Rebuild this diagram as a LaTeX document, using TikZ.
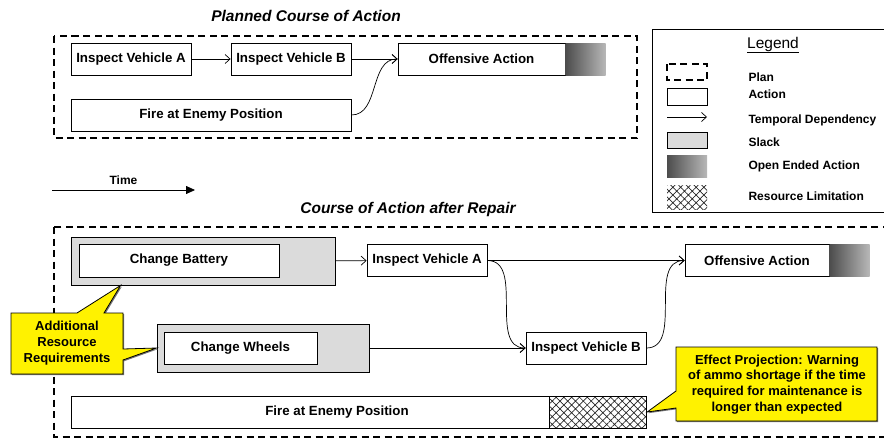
\documentclass[tikz,border=0pt]{standalone}
\usepackage{fontspec}
\setmainfont{Liberation Sans}
\usetikzlibrary{arrows.meta,patterns.meta,shadows}

\tikzset{
  act/.style={draw, line width=0.8pt, fill=white, font=\fontsize{13.3}{15}\selectfont\bfseries, inner sep=0pt, minimum height=32},
  slackbox/.style={draw, line width=0.8pt, fill=black!14, inner sep=0pt, minimum height=48},
  openend/.style={left color=black!70, right color=black!28, inner sep=0pt, minimum height=32, minimum width=40},
  limit/.style={draw, line width=0.8pt, pattern={Hatch[angle=45,distance=5.5pt,line width=0.7pt]}, pattern color=black!85, inner sep=0pt, minimum height=32},
  plan/.style={line width=1.4pt, dash pattern=on 7pt off 4.5pt},
  dep/.style={-{Straight Barb[length=5pt,width=9pt]}, line width=0.7pt},
  callout/.style={draw, line width=0.8pt, fill=yellow, drop shadow={shadow xshift=1.2pt, shadow yshift=-1.2pt, fill=black!55, opacity=1}},
  note/.style={font=\fontsize{13}{15.7}\selectfont\bfseries, align=center},
  heading/.style={font=\fontsize{15.5}{18}\selectfont\bfseries\itshape},
  key/.style={anchor=west, font=\fontsize{12}{14}\selectfont\bfseries},
}

\begin{document}
\begin{tikzpicture}[x=1pt,y=-1pt]
\useasboundingbox (0,0) rectangle (884,440);
\clip (0,0) rectangle (884,440);

% planned course of action
\node[heading] (tPlan) at (306,16) {Planned Course of Action};
\draw[plan] (54,36) rectangle (637,138);
\node[act, minimum width=120] (pA) at (131,59) {Inspect Vehicle A};
\node[act, minimum width=120] (pB) at (291,59) {Inspect Vehicle B};
\node[act, minimum width=167] (pOff) at (481.5,59) {Offensive Action};
\node[openend, anchor=west] (pOpen) at (pOff.east) {};
\node[act, minimum width=280] (pFire) at (211,115) {Fire at Enemy Position};

\draw[dep] (pA) -- (pB);
\draw[dep] (pB) -- (pOff);
\draw[dep] (pFire.east) to[out=0,in=180] (pOff.west);

% time axis
\coordinate (t0) at (52,190);
\coordinate (t1) at (195,190);
\draw[line width=0.8pt, -{Triangle[length=9pt,width=8pt]}] (t0) -- node[above=2pt, font=\fontsize{12}{14}\selectfont\bfseries] (tTime) {Time} (t1);

% legend
\draw[line width=0.8pt] (652,29) rectangle (900,212);
\node[font=\fontsize{15.5}{18}\selectfont] (kTitle) at (773,45) {\underline{Legend}};
\draw[plan] (667,64) rectangle (707,80);
\node[act, minimum width=40, minimum height=17] (kAct) at (687,96.5) {};
\coordinate (k0) at (667,117);
\coordinate (k1) at (707,117);
\draw[dep] (k0) -- (k1);
\node[slackbox, minimum width=40, minimum height=16] (kSlack) at (687,140) {};
\node[openend, minimum height=22] (kOpen) at (687,166) {};
\node[limit, draw=none, minimum width=40, minimum height=24] (kLimit) at (687,197) {};

\node[key] (lPlan) at (745,77) {Plan};
\node[key] (lAct) at (745,94) {Action};
\node[key] (lDep) at (745,120) {Temporal Dependency};
\node[key] (lSlack) at (745,142) {Slack};
\node[key] (lOpen) at (745,166) {Open Ended Action};
\node[key] (lLimit) at (745,196) {Resource Limitation};

% course of action after repair
\node[heading] (tRep) at (408,209) {Course of Action after Repair};
\draw[plan] (54,227) rectangle (900,437);
\node[slackbox, minimum width=264] (sBat) at (203,261) {};
\node[act, minimum width=200, minimum height=33] (rBat) at (179,260.5) {Change Battery};
\node[slackbox, minimum width=212] (sWhl) at (263,348) {};
\node[act, minimum width=153] (rWhl) at (240.5,348) {Change Wheels};
\node[act, minimum width=120] (rA) at (427,260.5) {Inspect Vehicle A};
\node[act, minimum width=120] (rB) at (586,348) {Inspect Vehicle B};
\node[act, minimum width=144] (rOff) at (757,260.5) {Offensive Action};
\node[openend, anchor=west] (rOpen) at (rOff.east) {};
\node[act, minimum width=478] (rFire) at (310,412) {\hspace*{54pt}Fire at Enemy Position};
\node[limit, anchor=west, minimum width=97] (rLimit) at (rFire.east) {};

\draw[dep] (sBat) -- (rA);
\draw[dep] (rA) -- (rOff);
\draw[dep] (rA.east) to[out=0,in=180] (rB.west);
\draw[dep] (rB.east) to[out=0,in=180] (rOff.west);
\draw[dep] (sWhl) -- (rB);

% callouts
\draw[callout] (11,313) -- (77,313) -- ([xshift=50pt]sBat.south west) -- (104,313) -- (123,313) -- (123,349)
  -- (sWhl.west) -- (123,360) -- (123,374) -- (11,374) -- cycle;
\node[note] (nRes) at (67,343) {Additional\\Resource\\Requirements};

\draw[callout] (676,347) -- (877,347) -- (877,421) -- (676,421) -- (676,408) -- (rLimit.east) -- (676,391) -- cycle;
\node[note] (nEff) at (777,384.5) {Effect Projection: Warning\\of ammo shortage if the time\\required for maintenance is\\longer than expected};

\end{tikzpicture}
\end{document}
